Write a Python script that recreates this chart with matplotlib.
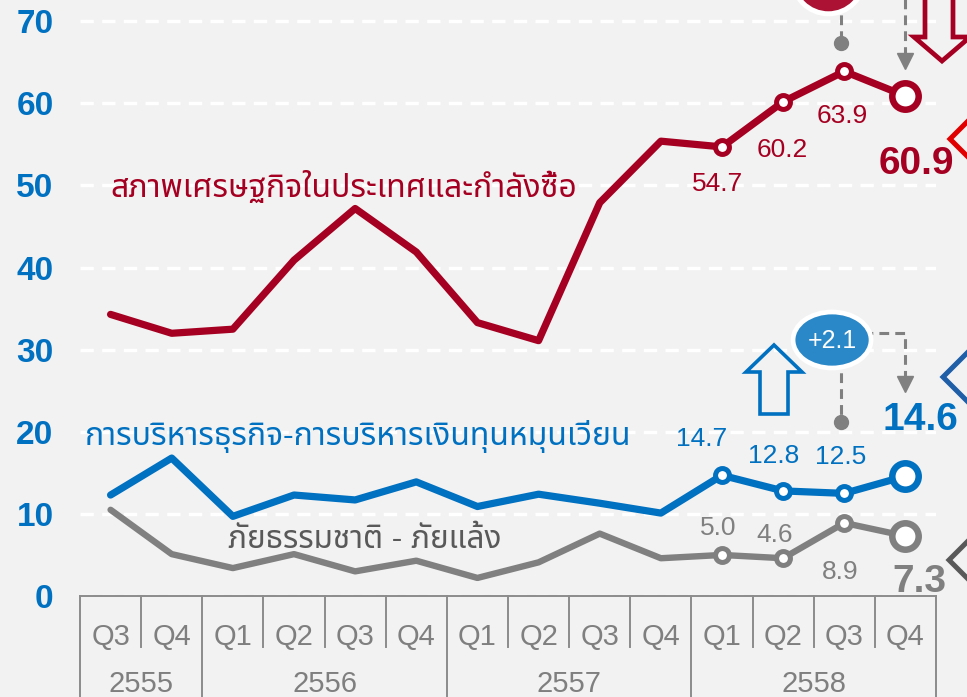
import numpy as np
import matplotlib
matplotlib.use('Agg')
import matplotlib.pyplot as plt
from matplotlib import font_manager, ft2font
from matplotlib.patches import Ellipse, Polygon

# ---- data ----
quarters = ['Q3', 'Q4', 'Q1', 'Q2', 'Q3', 'Q4', 'Q1', 'Q2', 'Q3', 'Q4', 'Q1', 'Q2', 'Q3', 'Q4']
years = ['2555', '2556', '2557', '2558']
year_spans = [(0, 1), (2, 5), (6, 9), (10, 13)]

economy = [34.3, 32.0, 32.5, 40.9, 47.2, 41.9, 33.3, 31.1, 47.9, 55.4, 54.7, 60.2, 63.9, 60.9]
business = [12.3, 16.8, 9.7, 12.3, 11.7, 13.9, 10.9, 12.4, 11.3, 10.1, 14.7, 12.8, 12.5, 14.6]
disaster = [10.5, 5.1, 3.4, 5.1, 3.0, 4.3, 2.2, 4.1, 7.6, 4.6, 5.0, 4.6, 8.9, 7.3]

economy_name = 'สภาพเศรษฐกิจในประเทศและกำลังซื้อ'
business_name = 'การบริหารธุรกิจ-การบริหารเงินทุนหมุนเวียน'
disaster_name = 'ภัยธรรมชาติ - ภัยแล้ง'
change_text = '+2.1'

RED = '#a50021'
BLUE = '#0070c0'
GRAY = '#808080'
BG = '#f2f2f2'


def thai_family():
    prefs = ['Tahoma', 'Leelawadee UI', 'Leelawadee', 'Noto Sans Thai', 'Noto Sans Thai UI',
             'Sarabun', 'Loma', 'Garuda', 'Waree', 'Umpush', 'Kinnari', 'Norasi']
    found = []
    for f in font_manager.fontManager.ttflist:
        try:
            cmap = ft2font.FT2Font(f.fname).get_charmap()
        except Exception:
            continue
        if 0x0E01 in cmap and 0x0E2A in cmap:
            found.append(f.name)
    for p in prefs:
        if p in found:
            return p
    return found[0] if found else None


thai = thai_family()
fams = ['Liberation Sans']
if thai:
    fams.append(thai)
fams.append('DejaVu Sans')
plt.rcParams['font.family'] = fams

W, H = 967, 697
fig = plt.figure(figsize=(W / 100, H / 100), dpi=100, facecolor=BG)
ax = fig.add_axes([80 / W, 101 / H, 856 / W, 596 / H])
ax.set_facecolor(BG)
ax.set_xlim(-0.5, 13.5)
ax.set_ylim(0, 596 / 8.21)
for s in ax.spines.values():
    s.set_visible(False)

ax.set_yticks(np.arange(0, 71, 10))
ax.tick_params(axis='y', length=0, pad=19, labelsize=24, labelcolor=BLUE)
for lab in ax.get_yticklabels():
    lab.set_fontweight('bold')
ax.set_xticks([])
ax.set_axisbelow(True)
ax.yaxis.grid(True, color='white', lw=2.4, linestyle=(0, (4, 2.5)))

x = np.arange(len(quarters))
ax.plot(x, economy, color=RED, lw=5.2, solid_capstyle='round', solid_joinstyle='round', zorder=3)
ax.plot(x, business, color=BLUE, lw=5.2, solid_capstyle='round', solid_joinstyle='round', zorder=3)
ax.plot(x, disaster, color=GRAY, lw=4.6, solid_capstyle='round', solid_joinstyle='round', zorder=3)

for vals, col in [(economy, RED), (business, BLUE), (disaster, GRAY)]:
    ax.plot(x[10:13], vals[10:13], 'o', ms=10, mfc='white', mec=col, mew=3.6, zorder=4)
    ax.plot(x[13:], vals[13:], 'o', ms=19, mfc='white', mec=col, mew=4.7, zorder=4)

# value labels on the last four quarters (offsets in pixels)
lab_off = {
    'economy': [(-4, -37), (-1, -48), (-2, -45), (11, -68)],
    'business': [(-20, 36), (-10, 35), (-4, 36), (15, 56)],
    'disaster': [(-4, 27), (-9, 23), (-4, -49), (14, -46)],
}
for key, vals, col in [('economy', economy, RED), ('business', business, BLUE),
                       ('disaster', disaster, GRAY)]:
    for k, i in enumerate(range(10, 14)):
        bold = i == 13
        ax.annotate(f'{vals[i]:.1f}', (x[i], vals[i]), xytext=lab_off[key][k],
                    textcoords='offset pixels', ha='center', va='center',
                    color=col, fontsize=28 if bold else 19,
                    fontweight='bold' if bold else 'normal', zorder=6,
                    annotation_clip=False)

# series names
ax.text(0.0, 48.6, economy_name, color=RED, fontsize=23, ha='left', va='baseline')
ax.text(-0.42, 18.4, business_name, color=BLUE, fontsize=23, ha='left', va='baseline')
ax.text(1.92, 5.85, disaster_name, color='#595959', fontsize=22.7, ha='left', va='baseline')

# category table under the plot
tr = ax.get_xaxis_transform()
line_c = '#8c8c8c'
ax.plot([-0.5, 13.5], [0, 0], transform=tr, color=line_c, lw=1.4, clip_on=False, zorder=5)
year_edges = [s[0] - 0.5 for s in year_spans] + [13.5]
for i in range(len(quarters) + 1):
    b = i - 0.5
    bottom = -0.2 if b in year_edges else -51 / 596
    ax.plot([b, b], [0, bottom], transform=tr, color=line_c, lw=1.4, clip_on=False, zorder=5)
for i, q in enumerate(quarters):
    ax.text(i, -49 / 596, q, transform=tr, ha='center', va='baseline', fontsize=21, color='#7f7f7f')
for yr, (a, b) in zip(years, year_spans):
    ax.text((a + b) / 2, -96 / 596, yr, transform=tr, ha='center', va='baseline', fontsize=21,
            color='#7f7f7f')

# call-outs
dash = dict(color=GRAY, lw=2.2, linestyle=(0, (3.2, 2)), clip_on=False, zorder=5)
ax.plot([11.95, 11.95], [73.5, 67.4], **dash)
ax.plot([11.95], [67.35], 'o', ms=10, color=GRAY, clip_on=False, zorder=5)
ax.plot([13, 13], [74, 65.6], **dash)
ax.plot([13], [65.2], 'v', ms=11, color=GRAY, clip_on=False, zorder=5)
ax.add_patch(Ellipse((11.74, 75.3), 72 / 61.14, 72 / 8.21, facecolor='#ab1233',
                     edgecolor='white', lw=3.6, clip_on=False, zorder=6))

ax.plot([11.95, 11.95], [31, 21.3], **dash)
ax.plot([11.95], [21.2], 'o', ms=10, color=GRAY, clip_on=False, zorder=5)
ax.plot([12.3, 13, 13], [32.0, 32.0, 26.2], **dash)
ax.plot([13], [25.8], 'v', ms=11, color=GRAY, clip_on=False, zorder=5)
ax.add_patch(Ellipse((11.8, 31.18), 78 / 61.14, 56 / 8.21, facecolor='#2a88c8',
                     edgecolor='white', lw=3.4, zorder=6))
ax.text(11.8, 31.0, change_text, color='white', fontsize=18, ha='center', va='center', zorder=7)


def fig_xy(pts):
    return [(px / W, 1 - py / H) for px, py in pts]


up_arrow = [(774, 345), (802, 372), (788, 372), (788, 414), (760, 414), (760, 372), (746, 372)]
fig.add_artist(Polygon(fig_xy(up_arrow), closed=True, fill=False, edgecolor=BLUE, lw=2.6,
                       joinstyle='miter'))
down_arrow = [(925, -10), (953, -10), (953, 37), (970, 37), (942, 61), (914, 37), (925, 37)]
fig.add_artist(Polygon(fig_xy(down_arrow), closed=True, fill=False, edgecolor=RED, lw=3.4,
                       joinstyle='miter'))

for tip, half, col in [((950, 139), 22, '#e00000'), ((943, 377), 26, '#1f5fa8'),
                       ((949, 560), 20, '#595959')]:
    tx, ty = tip
    pts = [(tx + half, ty - half), (tx, ty), (tx + half, ty + half)]
    fig.add_artist(plt.Line2D(*zip(*fig_xy(pts)), color=col, lw=3.6, solid_joinstyle='miter'))

fig.savefig('out.png', dpi=100, facecolor=BG)
